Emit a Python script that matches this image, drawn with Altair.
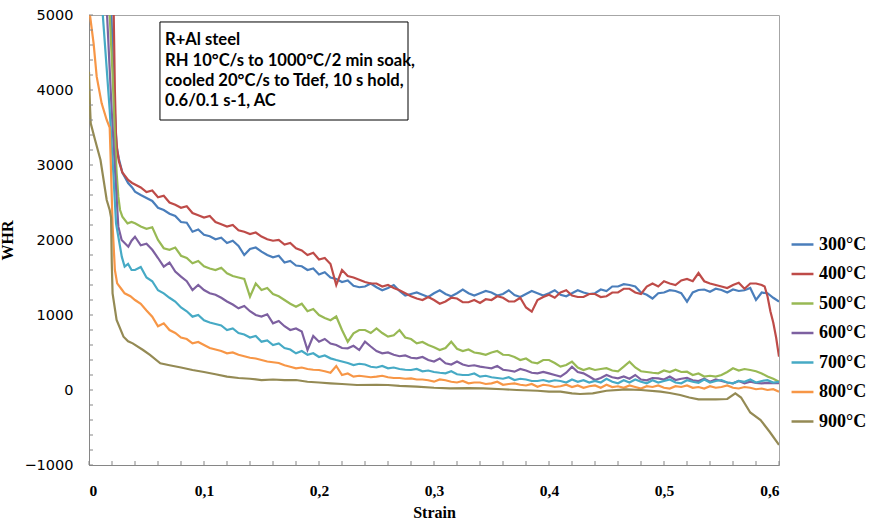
import altair as alt
import pandas as pd

series_names = ["300°C", "400°C", "500°C", "600°C", "700°C", "800°C", "900°C"]
colors = ["#4A7EBB", "#BE4B48", "#98B954", "#7D60A0", "#46AAC5", "#F79646", "#948A54"]

# common sampling grid for the noisy part of the curves (0.04 .. 0.60 step 0.005)
grid = [round(0.04 + 0.005 * i, 4) for i in range(113)]

# ---- 300°C
s300_early = [0.0185, 0.0195, 0.021, 0.0225, 0.024, 0.026, 0.029, 0.034, 0.0375]
w300_early = [5600, 5000, 4300, 3700, 3250, 3080, 2900, 2760, 2700]
w300_main = [2644, 2600, 2560, 2520, 2430, 2400, 2350, 2320, 2240, 2230,
             2110, 2140, 2070, 2050, 2010, 2030, 1960, 1990, 1920, 1800,
             1880, 1900, 1845, 1800, 1770, 1790, 1700, 1720, 1660, 1650,
             1600, 1620, 1540, 1570, 1500, 1480, 1440, 1460, 1390, 1370,
             1380, 1420, 1370, 1330, 1360, 1400, 1320, 1260, 1280, 1300,
             1270, 1240, 1290, 1330, 1280, 1250, 1290, 1340, 1290, 1260,
             1290, 1320, 1300, 1260, 1280, 1330, 1267, 1240, 1280, 1320,
             1290, 1260, 1290, 1330, 1270, 1250, 1290, 1330, 1300, 1280,
             1290, 1340, 1320, 1380, 1380, 1410, 1400, 1380, 1300, 1270,
             1220, 1290, 1300, 1330, 1320, 1290, 1178, 1300, 1333, 1340,
             1310, 1350, 1333, 1300, 1340, 1320, 1330, 1360, 1200, 1300,
             1290, 1230, 1178]
s300_tail, w300_tail = [], []

# ---- 400°C
s400_early = [0.0205, 0.0215, 0.0225, 0.0235, 0.0245, 0.026, 0.029, 0.034, 0.0375]
w400_early = [5600, 5000, 4000, 3400, 3200, 3050, 2900, 2800, 2760]
w400_main = [2740, 2700, 2640, 2660, 2570, 2590, 2500, 2470, 2430, 2450,
             2360, 2330, 2300, 2320, 2240, 2210, 2180, 2200, 2130, 2110,
             2080, 2100, 2045, 2010, 1990, 2000, 1940, 1960, 1890, 1860,
             1800, 1830, 1740, 1760, 1680, 1400, 1600, 1520, 1500, 1470,
             1440, 1420, 1420, 1380, 1400, 1360, 1330, 1290, 1250, 1220,
             1200, 1240, 1200, 1150, 1180, 1230, 1220, 1170, 1170, 1200,
             1160, 1210, 1200, 1250, 1230, 1180, 1180, 1230, 1100, 1044,
             1200, 1240, 1270, 1230, 1300, 1330, 1260, 1240, 1240, 1280,
             1280, 1240, 1250, 1300, 1300, 1350, 1350, 1300, 1280, 1380,
             1420, 1380, 1450, 1420, 1400, 1460, 1480, 1450, 1560, 1450,
             1420, 1400, 1380, 1360, 1400, 1430, 1350, 1420, 1420, 1400]
s400_tail = [0.5875, 0.59, 0.5925, 0.595, 0.5975, 0.60]
w400_tail = [1380, 1250, 1050, 900, 700, 444]

# ---- 500°C
s500_early = [0.017, 0.018, 0.0205, 0.0225, 0.024, 0.0255, 0.027, 0.029, 0.0335, 0.037]
w500_early = [5600, 5000, 4200, 3400, 2900, 2578, 2400, 2311, 2222, 2240]
w500_main = [2222, 2180, 2150, 2170, 2000, 1890, 1870, 1900, 1790, 1760,
             1690, 1720, 1650, 1620, 1600, 1630, 1556, 1520, 1500, 1480,
             1244, 1420, 1333, 1360, 1280, 1250, 1200, 1150, 1111, 1150,
             1050, 1080, 1000, 960, 930, 980, 800, 644, 756, 800,
             800, 760, 822, 760, 711, 730, 800, 700, 680, 622,
             640, 600, 570, 533, 560, 644, 550, 520, 540, 500,
             489, 470, 500, 520, 470, 467, 440, 400, 420, 370,
             356, 400, 400, 360, 311, 333, 378, 300, 267, 290,
             267, 280, 290, 260, 250, 311, 378, 300, 250, 240,
             230, 222, 260, 240, 270, 240, 244, 200, 220, 180,
             190, 178, 200, 240, 289, 260, 280, 267, 250, 220,
             180, 150, 111]
s500_tail, w500_tail = [], []

# ---- 600°C
s600_early = [0.0148, 0.0157, 0.0197, 0.0226, 0.0255, 0.0284, 0.0342, 0.037]
w600_early = [5600, 5000, 3733, 2933, 2178, 2000, 1911, 1990]
w600_main = [2044, 1930, 1950, 1870, 1760, 1644, 1700, 1580, 1511, 1450,
             1333, 1400, 1333, 1290, 1270, 1230, 1180, 1140, 1089, 1120,
             1050, 1000, 980, 1010, 889, 920, 850, 800, 820, 780,
             533, 720, 644, 680, 620, 600, 560, 556, 590, 533,
             644, 580, 520, 489, 500, 470, 450, 460, 430, 422,
             440, 400, 380, 420, 356, 340, 380, 340, 320, 330,
             311, 300, 290, 320, 270, 260, 244, 280, 260, 230,
             222, 240, 222, 200, 178, 230, 311, 240, 222, 180,
             133, 160, 200, 170, 156, 180, 150, 200, 140, 130,
             160, 156, 140, 180, 133, 150, 160, 130, 120, 150,
             111, 140, 120, 100, 90, 120, 89, 110, 95, 89,
             95, 90, 90]
s600_tail, w600_tail = [], []

# ---- 700°C
s700_early = [0.011, 0.012, 0.018, 0.021, 0.0235, 0.0285, 0.031, 0.034, 0.037]
w700_early = [5600, 5000, 3733, 2933, 2222, 1778, 1644, 1680, 1600]
w700_main = [1600, 1640, 1500, 1450, 1330, 1289, 1230, 1180, 1100, 1050,
             978, 1000, 930, 900, 880, 860, 800, 820, 760, 740,
             700, 720, 644, 660, 600, 620, 560, 540, 489, 520,
             470, 490, 440, 460, 422, 400, 380, 360, 333, 350,
             340, 310, 300, 320, 289, 300, 280, 270, 267, 280,
             250, 260, 240, 230, 222, 250, 210, 200, 200, 220,
             178, 190, 170, 160, 150, 170, 133, 150, 140, 120,
             120, 133, 111, 130, 120, 100, 140, 110, 130, 100,
             120, 100, 150, 110, 90, 130, 100, 140, 110, 90,
             130, 100, 120, 140, 100, 90, 130, 110, 95, 140,
             100, 120, 133, 100, 90, 120, 110, 140, 100, 120,
             130, 100, 110]
s700_tail, w700_tail = [], []

# ---- 800°C
s800_early = [0.0, 0.004, 0.0067, 0.011, 0.0154, 0.018, 0.019, 0.0205, 0.0225, 0.0245, 0.028, 0.031, 0.036]
w800_early = [5100, 4622, 4178, 3822, 3600, 3500, 3000, 2200, 1600, 1422, 1350, 1289, 1250]
w800_main = [1200, 1150, 1060, 978, 850, 889, 800, 760, 700, 680,
             622, 640, 600, 560, 540, 520, 489, 500, 470, 450,
             430, 420, 400, 380, 370, 360, 330, 310, 289, 300,
             280, 270, 267, 250, 230, 320, 200, 220, 178, 190,
             180, 170, 178, 190, 170, 160, 160, 150, 156, 140,
             140, 130, 111, 140, 130, 110, 100, 120, 89, 100,
             100, 80, 89, 110, 70, 80, 89, 70, 60, 80,
             44, 70, 60, 40, 50, 70, 40, 60, 30, 50,
             60, 30, 70, 40, 50, 30, 60, 40, 20, 50,
             40, 60, 30, 20, 50, 40, 60, 30, 40, 20,
             50, 30, 40, 60, 30, 20, 40, 30, 10, 20,
             0, 10, -22]
s800_tail, w800_tail = [], []

# ---- 900°C (smooth curve, own strain points)
s900_early = [0.0, 0.0008, 0.0015, 0.005, 0.01, 0.0154, 0.018, 0.0192, 0.0198, 0.0205, 0.024, 0.03, 0.034, 0.038,
              0.047, 0.053, 0.062, 0.07, 0.08, 0.09, 0.1, 0.11, 0.12, 0.13, 0.14, 0.15, 0.16, 0.17, 0.18, 0.19,
              0.2, 0.21, 0.22, 0.233, 0.25, 0.26, 0.27, 0.285, 0.3, 0.314, 0.33, 0.343, 0.36, 0.372, 0.39,
              0.4, 0.41, 0.42, 0.427, 0.438, 0.45, 0.467, 0.48, 0.497, 0.505, 0.514, 0.522, 0.53, 0.545,
              0.555, 0.562, 0.567, 0.575, 0.584, 0.592, 0.6]
w900_early = [4244, 3800, 3556, 3350, 3067, 2533, 2400, 2300, 1700, 1289, 933, 711, 650, 622,
              533, 467, 356, 330, 300, 267, 240, 210, 178, 160, 150, 133, 140, 133, 133, 110,
              100, 89, 80, 67, 70, 67, 55, 44, 30, 22, 25, 22, 10, 0, -10,
              -22, -22, -45, -53, -44, -10, 9, 0, -22, -40, -67, -100, -124, -124,
              -120, -44, -100, -300, -400, -560, -733]
w900_main = []
s900_tail, w900_tail = [], []

series_data = [
    (s300_early, w300_early, w300_main, s300_tail, w300_tail),
    (s400_early, w400_early, w400_main, s400_tail, w400_tail),
    (s500_early, w500_early, w500_main, s500_tail, w500_tail),
    (s600_early, w600_early, w600_main, s600_tail, w600_tail),
    (s700_early, w700_early, w700_main, s700_tail, w700_tail),
    (s800_early, w800_early, w800_main, s800_tail, w800_tail),
    (s900_early, w900_early, w900_main, s900_tail, w900_tail),
]

rows = []
for name, (se, we, wm, st, wt) in zip(series_names, series_data):
    order = 0
    for s, w in zip(se, we):
        rows.append({"series": name, "strain": s, "whr": w, "o": order}); order += 1
    for s, w in zip(grid, wm):
        rows.append({"series": name, "strain": s, "whr": w, "o": order}); order += 1
    for s, w in zip(st, wt):
        rows.append({"series": name, "strain": s, "whr": w, "o": order}); order += 1
df = pd.DataFrame(rows)

x_ticks = [0, 0.1, 0.2, 0.3, 0.4, 0.5, 0.6]
y_ticks = [-1000, 0, 1000, 2000, 3000, 4000, 5000]
x_minor = [round(0.02 * i, 3) for i in range(31)]
y_minor = [-1000 + 200 * i for i in range(31)]

note_lines = ["R+Al steel", "RH 10°C/s to 1000°C/2 min soak,", "cooled 20°C/s to Tdef, 10 s hold,", "0.6/0.1 s-1, AC"]
note_y = [4667, 4387, 4120, 3853]

serif = "Liberation Serif"
xscale = alt.Scale(domain=[0, 0.6], nice=False, zero=False)
yscale = alt.Scale(domain=[-1000, 5000], nice=False, zero=False)

common = dict(titleFont=serif, titleFontSize=16, titleFontWeight="bold", titleColor="black",
              labelColor="black", domainColor="#868686", ticks=False, grid=False)
xaxis = alt.Axis(values=x_ticks, title="Strain",
                 labelExpr="datum.value == 0 ? '0' : replace(format(datum.value, '.1f'), '.', ',')",
                 labelFont=serif, labelFontSize=15.5, labelFontWeight="bold",
                 labelPadding=18, titlePadding=6, **common)
yaxis = alt.Axis(values=y_ticks, title="WHR", format="d",
                 labelFont="DejaVu Sans", labelFontSize=14.5, labelFontWeight="normal",
                 labelPadding=16, titlePadding=8, **common)

lines = alt.Chart(df).mark_line(strokeWidth=2.2, clip=True).encode(
    x=alt.X("strain:Q", scale=xscale, axis=xaxis),
    y=alt.Y("whr:Q", scale=yscale, axis=yaxis),
    color=alt.Color("series:N", scale=alt.Scale(domain=series_names, range=colors),
                    legend=alt.Legend(title=None, orient="none", legendX=701, legendY=217,
                                      symbolType="stroke", symbolSize=480, symbolStrokeWidth=2.5,
                                      labelFont=serif, labelFontSize=18, labelFontWeight="bold",
                                      labelColor="black", rowPadding=7.5, labelOffset=4)),
    order="o:Q",
    detail="series:N",
)

ydf = pd.DataFrame({"y": y_minor})
yt = alt.Chart(ydf).mark_rule(color="#868686", strokeWidth=1).encode(
    y=alt.Y("y:Q", scale=yscale, axis=yaxis), x=alt.value(0), x2=alt.value(4))
xdf = pd.DataFrame({"x": x_minor})
xt = alt.Chart(xdf).mark_rule(color="#868686", strokeWidth=1).encode(
    x=alt.X("x:Q", scale=xscale, axis=xaxis), y=alt.value(450), y2=alt.value(446))

box_df = pd.DataFrame({"x": [0.0617], "x2": [0.2774], "y": [4907], "y2": [3600]})
box = alt.Chart(box_df).mark_rect(fill="white", stroke="black", strokeWidth=1).encode(
    x=alt.X("x:Q", scale=xscale, axis=xaxis), x2="x2:Q",
    y=alt.Y("y:Q", scale=yscale, axis=yaxis), y2="y2:Q")

note_df = pd.DataFrame({"t": note_lines, "y": note_y, "x": [0.0661] * 4})
note = alt.Chart(note_df).mark_text(align="left", baseline="middle", font="Lato", fontSize=16.6,
                                    fontWeight="bold", color="black").encode(
    x=alt.X("x:Q", scale=xscale, axis=xaxis), y=alt.Y("y:Q", scale=yscale, axis=yaxis), text="t:N")

chart = alt.layer(lines, yt, xt, box, note).properties(
    width=690, height=450,
    autosize=alt.AutoSizeParams(type="none"),
    padding={"left": 89, "top": 15, "right": 93, "bottom": 60},
    background="white",
).configure_view(stroke="#A6A6A6", strokeWidth=1)

chart.save("out.html", embed_options={"renderer": "svg", "actions": False})
